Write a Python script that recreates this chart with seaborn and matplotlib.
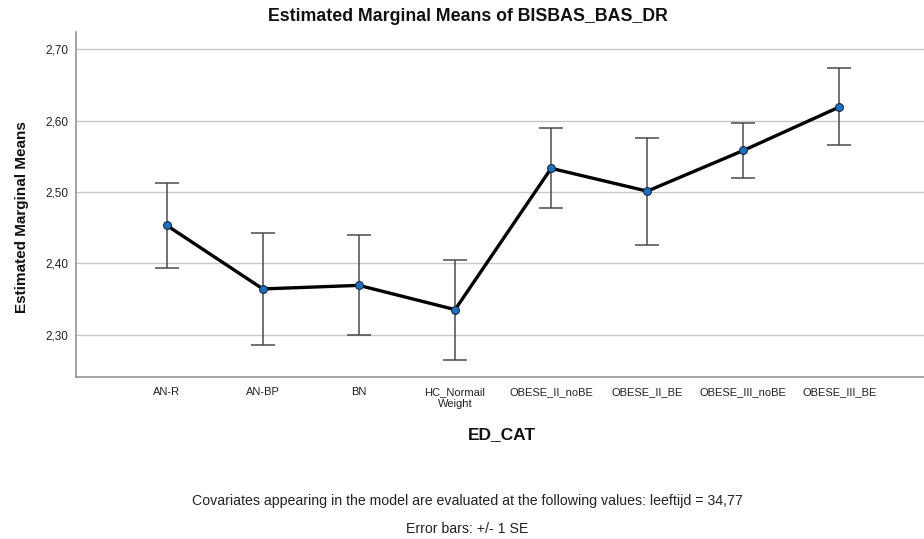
import numpy as np
import pandas as pd
import matplotlib
matplotlib.use('Agg')
import matplotlib.pyplot as plt
from matplotlib.ticker import FuncFormatter
import seaborn as sns

# estimated marginal means per ED_CAT group, +/- 1 SE
categories = ['AN-R', 'AN-BP', 'BN', 'HC_Normail\nWeight', 'OBESE_II_noBE',
              'OBESE_II_BE', 'OBESE_III_noBE', 'OBESE_III_BE']
means = [2.453, 2.364, 2.369, 2.335, 2.533, 2.501, 2.558, 2.619]
se = [0.060, 0.079, 0.070, 0.070, 0.056, 0.075, 0.038, 0.054]
y_ticks = [2.30, 2.40, 2.50, 2.60, 2.70]

sns.set_style('white')
plt.rcParams['font.family'] = ['Liberation Sans', 'DejaVu Sans']

df = pd.DataFrame({'ED_CAT': categories, 'mean': means, 'se': se})
df['pos'] = np.arange(len(df))

fig = plt.figure(figsize=(9.24, 5.39), dpi=100)
ax = fig.add_axes([0.0823, 0.3011, 0.9177, 0.6395])

ax.errorbar(df['pos'], df['mean'], yerr=df['se'], fmt='none', ecolor='#4a4a4a',
            elinewidth=1.1, capsize=8.6, capthick=1.1, zorder=2)
sns.lineplot(data=df, x='pos', y='mean', color='black', linewidth=2.4,
             ax=ax, zorder=3)
sns.scatterplot(data=df, x='pos', y='mean', color='#1f6fc0', edgecolor='#1c2a40',
                linewidth=0.8, s=32, ax=ax, zorder=4)

ax.set_xlim(-0.944, 7.88)
ax.set_ylim(2.241, 2.724)
ax.set_xticks(df['pos'])
ax.set_xticklabels(df['ED_CAT'], fontsize=8)
for t in ax.get_xticklabels():
    t.set_linespacing(1.3)
ax.set_yticks(y_ticks)
ax.yaxis.set_major_formatter(FuncFormatter(lambda v, p: f'{v:.2f}'.replace('.', ',')))
ax.tick_params(axis='y', length=0, pad=5.8, labelsize=8.5, labelcolor='#222222')
ax.tick_params(axis='x', length=0, pad=7.4, labelcolor='#222222')
ax.set_xlabel('')
ax.set_ylabel('')

ax.yaxis.grid(True, color='#c8c8c8', linewidth=1.0)
ax.set_axisbelow(True)
for s in ['top', 'right']:
    ax.spines[s].set_visible(False)
for s in ['left', 'bottom']:
    ax.spines[s].set_color('#8c8c8c')
    ax.spines[s].set_linewidth(1.1)

fig.text(0.506, 0.969, 'Estimated Marginal Means of BISBAS_BAS_DR',
         ha='center', va='center', fontsize=12.8, fontweight='bold', color='#111111')
fig.text(0.0235, 0.5965, 'Estimated Marginal Means', rotation=90,
         ha='center', va='center', fontsize=11, fontweight='bold', color='#111111')
fig.text(0.543, 0.194, 'ED_CAT', ha='center', va='center',
         fontsize=12.5, fontweight='bold', color='#111111')
fig.text(0.506, 0.0705,
         'Covariates appearing in the model are evaluated at the following values: leeftijd = 34,77',
         ha='center', va='center', fontsize=10.2, color='#222222')
fig.text(0.506, 0.0186, 'Error bars: +/- 1 SE', ha='center', va='center',
         fontsize=10.2, color='#222222')

fig.savefig('out.png', dpi=100)
